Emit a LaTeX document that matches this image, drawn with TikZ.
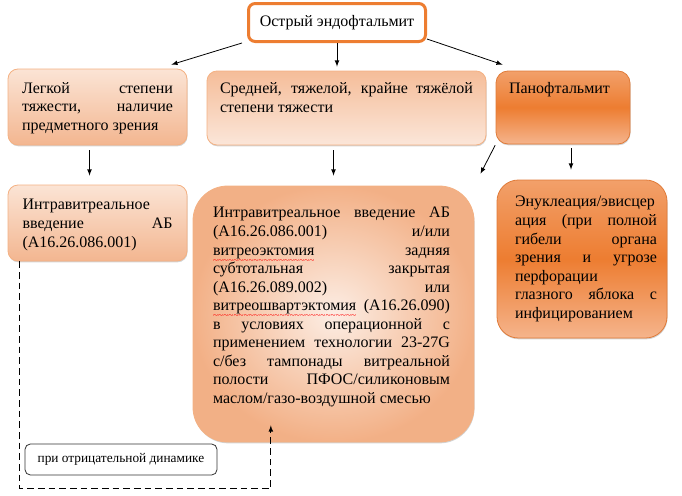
\documentclass[tikz,border=0pt]{standalone}
\usepackage{fontspec}
\setmainfont{Liberation Serif}
\usetikzlibrary{positioning,shadows}

\definecolor{peachline}{HTML}{F4B183}
\definecolor{peachtop}{HTML}{FBE4D5}
\definecolor{peachlow}{HTML}{F3B690}
\definecolor{peachmid}{HTML}{F5BD99}
\definecolor{peachpale}{HTML}{FBE6D9}
\definecolor{orangetop}{HTML}{F2A06A}
\definecolor{orangemid}{HTML}{ED7D31}
\definecolor{orangelow}{HTML}{F5B48C}
\definecolor{orangeline}{HTML}{E07B39}

\newcommand{\boxtext}[4]{\parbox[c][#2][t]{#1}{\tolerance=10000 \hbadness=10000
  \vspace*{#3}\strut #4}}
\newcommand{\spellmark}[1]{\setbox0\hbox{#1}\rlap{\raisebox{-6pt}[0pt][0pt]{\color{red}%
  \hbox to \wd0{\xleaders\hbox{\fontsize{7}{7}\selectfont\char"7E}\hfill}}}\box0\relax}

\begin{document}
\begin{tikzpicture}[x=0.75pt,y=-0.75pt,>=latex,line width=0.6pt,
   font=\rmfamily\fontsize{12}{13.9}\selectfont,
   box/.style={inner sep=0pt,draw=peachline,line width=0.6pt,
     drop shadow={shadow xshift=0.4pt,shadow yshift=-1pt,opacity=0.35}},
   light/.style={box,rounded corners=7.5pt,top color=peachtop,bottom color=peachlow},
   orange/.style={box,draw=orangeline,top color=orangetop,bottom color=orangelow,middle color=orangemid},
   topbox/.style={draw=orangemid,line width=2.25pt,fill=white,rounded corners=5pt,
     minimum width=132.75pt,minimum height=28.5pt},
   notebox/.style={draw=black!80,fill=white,rounded corners=4pt,
     minimum width=144pt,minimum height=23.25pt,font=\rmfamily\fontsize{10}{12}\selectfont}]
   \useasboundingbox (0,0) rectangle (682,496);

   \node[topbox] (e_0) at (337,22.5) {Острый эндофтальмит};

   \node[light,minimum width=134.25pt,minimum height=57pt] (s_1) at (97.5,107)
     {\boxtext{113.25pt}{57pt}{8.27pt}{Легкой степени\linebreak
      тяжести, наличие\linebreak предметного зрения}};
   \node[box,rounded corners=7.5pt,top color=peachmid,bottom color=peachpale,
     minimum width=209.25pt,minimum height=55.5pt] (s_2) at (346.5,108)
     {\boxtext{189.75pt}{55.5pt}{7.5pt}{Средней, тяжелой, крайне тяжёлой\linebreak
      степени тяжести}};
   \node[orange,rounded corners=9pt,minimum width=100.5pt,minimum height=54.75pt] (s_3) at (563,107.5)
     {\boxtext{81pt}{54.75pt}{7.5pt}{Панофтальмит}};

   \node[light,minimum width=134.25pt,minimum height=57pt] (t_1) at (97.5,223)
     {\boxtext{112.5pt}{57pt}{9pt}{Интравитреальное\\
      введение АБ\linebreak (А16.26.086.001)}};
   \node[box,rounded corners=26pt,inner color=white!30!peachpale,outer color=peachlow!90!orangemid,
     minimum width=210.75pt,minimum height=192pt] (t_2) at (333.5,314)
     {\boxtext{177.75pt}{192pt}{14.25pt}{Интравитреальное введение АБ\linebreak
      (А16.26.086.001) и/или\linebreak
      \spellmark{витреоэктомия} задняя\linebreak
      субтотальная закрытая\linebreak
      (А16.26.089.002) или\linebreak
      \spellmark{витреошвартэктомия} (А16.26.090)\linebreak
      в условиях операционной с\linebreak
      применением технологии 23-27G\linebreak
      с/без тампонады витреальной\linebreak
      полости ПФОС/силиконовым\linebreak
      маслом/газо-воздушной смесью}\hspace*{3pt}};
   \node[orange,rounded corners=16pt,minimum width=127.5pt,minimum height=118.5pt] (t_3) at (582,259)
     {\hspace*{6pt}\boxtext{106.5pt}{118.5pt}{10.5pt}{Энуклеация/эвисцер\linebreak
      ация (при полной\linebreak гибели органа\linebreak зрения и угрозе\linebreak
      перфорации\\ глазного яблока с\linebreak инфицированием}};

   \node[notebox] (neg) at (121,459.5) {при отрицательной динамике};

   \path[->]
   ([xshift=-3.75pt]e_0.south west) edge[shorten >=10.2pt] ([xshift=-21.75pt]s_1.north east)
   (e_0.south) edge[shorten >=3pt] (e_0.south |- s_2.north)
   ([yshift=3pt]e_0.south east) edge[shorten >=13.9pt] ([xshift=18.4pt]s_3.north west)
   ([xshift=-6pt]s_1.south) edge[shorten <=3.75pt,shorten >=6.75pt] ([xshift=-6pt]s_1.south |- t_1.north)
   (t_2.north |- s_2.south) edge[shorten <=3.75pt,shorten >=7.5pt] (t_2.north)
   (s_3.south west) edge[shorten <=0.75pt,shorten >=10pt] (t_2.north east)
   ([xshift=6pt]s_3.south) edge[shorten <=3pt,shorten >=7.5pt] ([xshift=6pt]s_3.south |- t_3.north);
   \draw[->,dashed,dash pattern=on 5pt off 3pt] ([xshift=9pt]t_1.south west)
     |- ([xshift=-47pt,yshift=-34.5pt]t_2.south) -- ([xshift=-47pt,yshift=12.75pt]t_2.south);
\end{tikzpicture}
\end{document}
